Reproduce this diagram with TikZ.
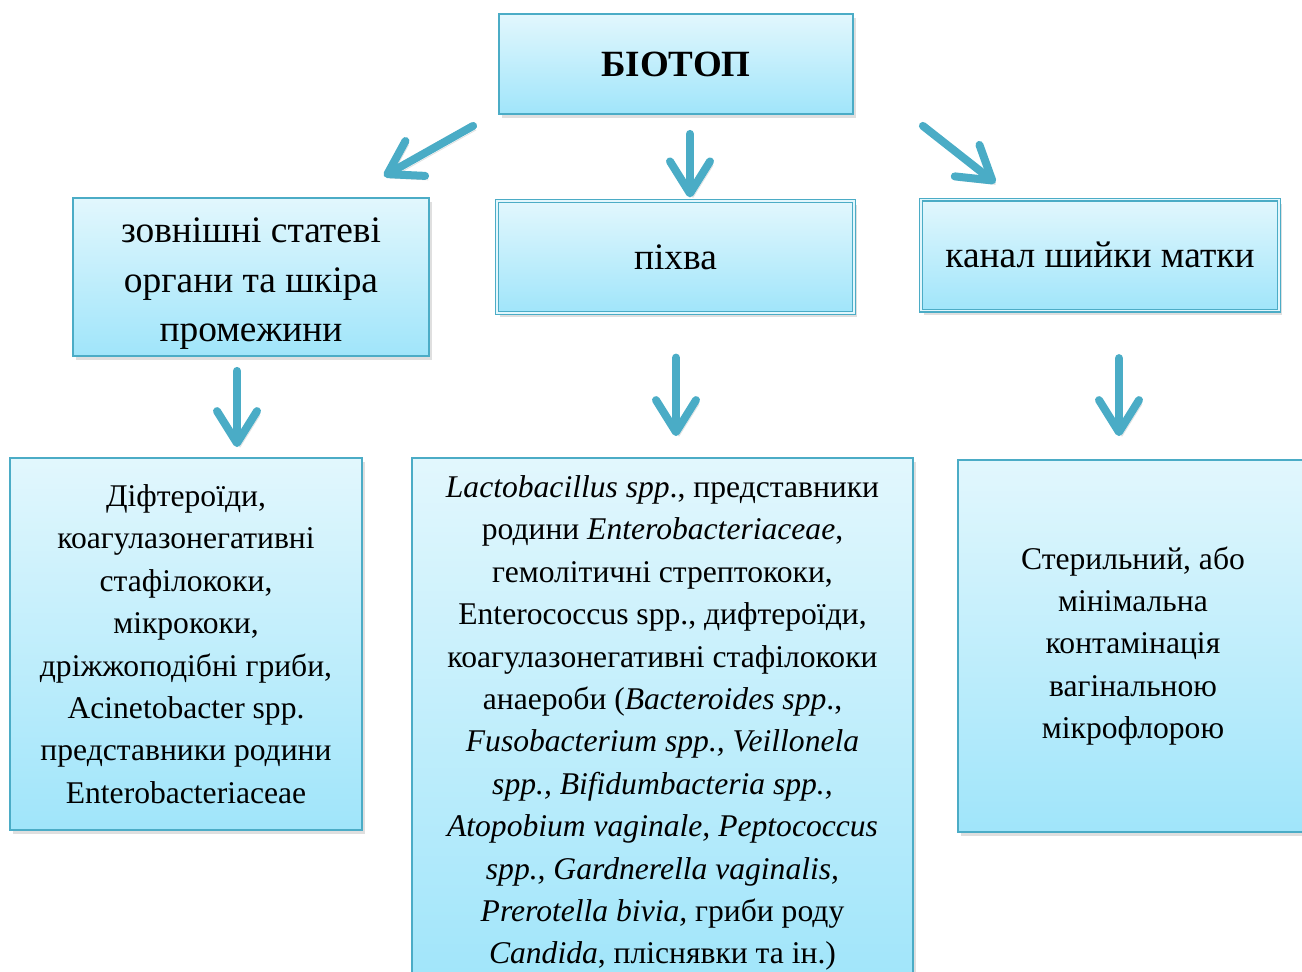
\documentclass[tikz,border=0pt]{standalone}
\usepackage{fontspec}
\setmainfont{Liberation Serif}
\usetikzlibrary{arrows.meta, shadows, calc}
\definecolor{boxline}{RGB}{75,172,198}
\definecolor{boxtop}{RGB}{226,247,253}
\definecolor{boxbot}{RGB}{160,229,250}
\definecolor{arrcol}{RGB}{74,172,198}

\begin{document}
\begin{tikzpicture}[x=0.5pt, y=-0.5pt]
\tikzstyle{box}=[draw=boxline, line width=0.9pt, top color=boxtop, bottom color=boxbot, align=center, inner sep=0pt, drop shadow={shadow xshift=1.5pt, shadow yshift=-2pt, opacity=0.25}]
\tikzstyle{dbox}=[box, double=boxtop, double distance=0.8pt, line width=0.6pt]
\tikzstyle{mid}=[font=\fontsize{18.7}{24.8}\selectfont]
\tikzstyle{low}=[font=\fontsize{15.8}{21.2}\selectfont]
\tikzstyle{arr}=[draw=arrcol, line width=4pt, line cap=round, -{Straight Barb[length=16pt,width=20pt,round]}, preaction={draw=black, opacity=0.12, transform canvas={shift={(1.5pt,-2pt)}}}]
\useasboundingbox (0,0) rectangle (1302,971);
% top
\node[box, minimum width=177pt, minimum height=50pt, font=\fontsize{18.5}{22}\selectfont\bfseries] (biotop) at (676,64) {БІОТОП};
% second row
\node[box, mid, minimum width=178pt, minimum height=79pt] (zovn) at (251,277) {\rule{0pt}{19pt}зовнішні статеві\\ органи та шкіра\\ промежини};
\node[dbox, mid, minimum width=178.5pt, minimum height=56pt] (pikhva) at (675.5,257) {піхва};
\node[dbox, mid, minimum width=179pt, minimum height=55.5pt] (kanal) at (1100,255) {канал шийки матки};
% third row
\node[box, low, minimum width=176pt, minimum height=186pt] (flzovn) at (186,644) {Діфтероїди,\\ коагулазонегативні\\ стафілококи,\\ мікрококи,\\ дріжжоподібні гриби,\\ Acinetobacter spp.\\ представники родини\\ Enterobacteriaceae};
\node[box, low, minimum width=250.5pt, minimum height=265pt] (flpikh) at (662.5,723) {\textit{Lactobacillus spp}., представники\\ родини \textit{Enterobacteriaceae},\\ гемолітичні стрептококи,\\ Enterococcus spp., дифтероїди,\\ коагулазонегативні стафілококи\\ анаероби (\textit{Bacteroides spp}.,\\ \textit{Fusobacterium spp., Veillonela}\\ \textit{spp., Bifidumbacteria spp.,}\\ \textit{Atopobium vaginale, Peptococcus}\\ \textit{spp., Gardnerella vaginalis,}\\ \textit{Prerotella bivia,} гриби роду\\ \textit{Candida}, пліснявки та ін.)};
\node[box, low, minimum width=175pt, minimum height=186pt] (flkanal) at (1133,646) {Стерильний, або\\ мінімальна\\ контамінація\\ вагінальною\\ мікрофлорою};
% arrows
\draw[arr] ($(biotop.south west)+(-25,11)$) -- ($(zovn.north east)+(-46,-21)$);
\draw[arr] ($(biotop.south)+(14,19)$) -- ($(pikhva.north)+(14.5,-3)$);
\draw[arr] ($(biotop.south east)+(69,11)$) -- ($(kanal.north west)+(75,-16)$);
\draw[arr] ($(zovn.south)+(-14,14)$) -- ($(flzovn.north)+(51,-10)$);
\draw[arr] ($(pikhva.south)+(0.5,44)$) -- ($(flpikh.north)+(13.5,-21)$);
\draw[arr] ($(kanal.south)+(19,47)$) -- ($(flkanal.north)+(-14,-23)$);
\end{tikzpicture}
\end{document}
